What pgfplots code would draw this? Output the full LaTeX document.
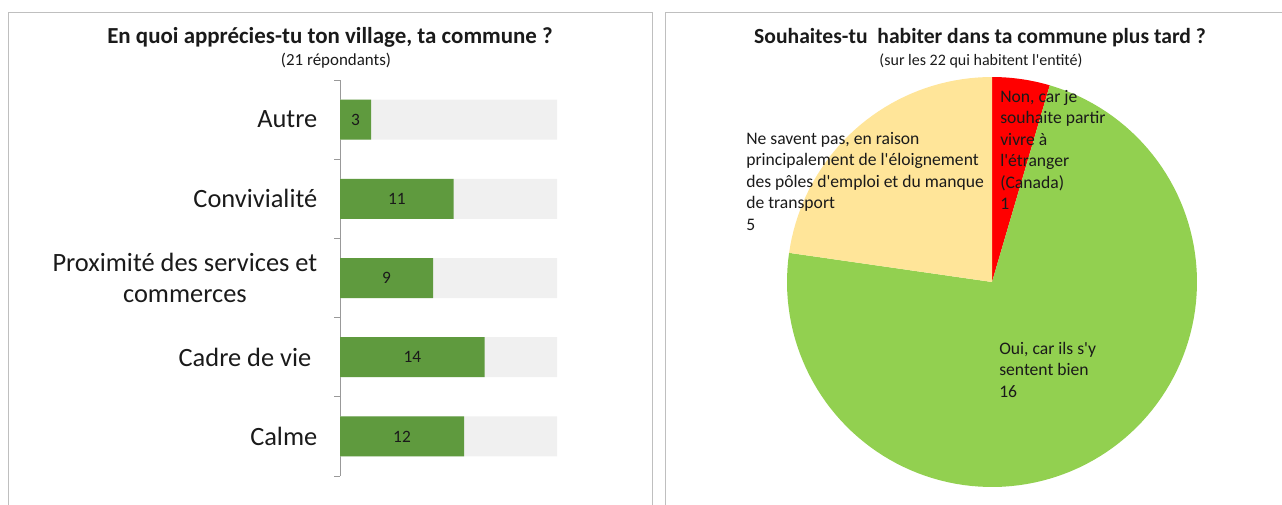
\documentclass[border=0pt]{standalone}
\usepackage{fontspec}
\setmainfont{Carlito}
\usepackage{pgfplots}
\usepackage{pgfplotstable}
\pgfplotsset{compat=1.18}

\definecolor{bargreen}{HTML}{5F9A3E}
\definecolor{barbg}{HTML}{F0F0F0}
\definecolor{piered}{HTML}{FF0000}
\definecolor{piegreen}{HTML}{92D050}
\definecolor{pieyellow}{HTML}{FFE599}
\definecolor{frame}{HTML}{BFBFBF}
\definecolor{txt}{HTML}{1A1A1A}

% left chart: answers out of 21 respondents
\pgfplotstableread{
y v tot
1 3 21
2 11 21
3 9 21
4 14 21
5 12 21
}\bardata

% right chart: 22 answers
\def\nNon{1}
\def\nOui{16}
\def\nNsp{5}

\begin{document}
\begin{tikzpicture}
% 1 px of the reference = 0.75pt
\useasboundingbox (0,0) rectangle (961.5pt,-378pt);
\draw[frame, line width=0.75pt] (6pt,-390pt) -- (6pt,-9pt) -- (489pt,-9pt) -- (489pt,-390pt);
\draw[frame, line width=0.75pt] (498.75pt,-390pt) -- (498.75pt,-9pt) -- (975pt,-9pt);

% titles
\node[anchor=base, text=txt, font=\fontsize{17.2}{20}\selectfont\bfseries] at (247.5pt,-32.25pt) {En quoi apprécies-tu ton village, ta commune ?};
\node[anchor=base, text=txt, font=\fontsize{12.7}{15}\selectfont] at (252pt,-48.75pt) {(21 répondants)};
\node[anchor=base, text=txt, font=\fontsize{16.2}{19}\selectfont\bfseries] at (735pt,-32.25pt) {Souhaites-tu\ \ habiter dans ta commune plus tard ?};
\node[anchor=base, text=txt, font=\fontsize{12}{14}\selectfont] at (735.75pt,-48.75pt) {(sur les 22 qui habitent l\textquotesingle entité)};

% bar chart
\begin{axis}[
  at={(255pt,-357pt)}, anchor=south west,
  scale only axis, width=162.75pt, height=297pt,
  xmin=0, xmax=21, ymin=0.5, ymax=5.5, y dir=reverse,
  axis x line=none, axis y line*=left, xtick=\empty,
  axis line style={draw=gray!80, line width=0.75pt},
  ytick={1,...,5},
  yticklabels={Autre, Convivialité, {Proximité des services et\\commerces}, Cadre de vie\ , Calme},
  minor ytick={0.5,1.5,...,5.5},
  major tick length=0pt, minor tick length=4.5pt, tick align=outside,
  minor tick style={draw=gray!80, line width=0.75pt},
  yticklabel style={font=\fontsize{19.8}{23.3}\selectfont, align=center, text=txt, xshift=-13.5pt},
  bar width=30pt,
  /pgf/number format/assume math mode=true,
]
\addplot[xbar, bar shift=0pt, fill=barbg, draw=none] table[x=tot, y=y]{\bardata};
\addplot[xbar, bar shift=0pt, fill=bargreen, draw=none] table[x=v, y=y]{\bardata};
\addplot[draw=none, mark=none, nodes near coords, nodes near coords align=center,
  point meta=explicit,
  every node near coord/.append style={font=\fontsize{13}{15}\selectfont, text=txt}]
  table[x expr=\thisrow{v}/2, y=y, meta=v]{\bardata};
\end{axis}

% pie chart, clockwise from the top
\pgfmathsetmacro\aA{90}
\pgfmathsetmacro\aB{\aA-360*\nNon/(\nNon+\nOui+\nNsp)}
\pgfmathsetmacro\aC{\aB-360*\nOui/(\nNon+\nOui+\nNsp)}
\pgfmathsetmacro\aD{\aC-360*\nNsp/(\nNon+\nOui+\nNsp)}
\begin{axis}[
  at={(744pt,-211.5pt)}, anchor=center,
  scale only axis, width=307.5pt, height=307.5pt,
  xmin=-1, xmax=1, ymin=-1, ymax=1, hide axis, clip=false,
]
\addplot[fill=piered, draw=none, domain=\aB:\aA, samples=20, variable=\t]
  ({cos(\t)},{sin(\t)}) -- (axis cs:0,0) -- cycle;
\addplot[fill=piegreen, draw=none, domain=\aC:\aB, samples=120, variable=\t]
  ({cos(\t)},{sin(\t)}) -- (axis cs:0,0) -- cycle;
\addplot[fill=pieyellow, draw=none, domain=\aD:\aC, samples=40, variable=\t]
  ({cos(\t)},{sin(\t)}) -- (axis cs:0,0) -- cycle;
\end{axis}

\begin{scope}[every node/.style={anchor=north west, align=left, inner sep=0pt, text=txt, font=\fontsize{13.2}{16.1}\selectfont}]
\node at (750pt,-67.5pt) {Non, car je\\souhaite partir\\vivre à\\l\textquotesingle étranger\\(Canada)\\1};
\node at (559.5pt,-99pt) {Ne savent pas, en raison\\principalement de l\textquotesingle éloignement\\des pôles d\textquotesingle emploi et du manque\\de transport\\5};
\node at (749.25pt,-256.5pt) {Oui, car ils s\textquotesingle y\\sentent bien\\16};
\end{scope}
\end{tikzpicture}
\end{document}
